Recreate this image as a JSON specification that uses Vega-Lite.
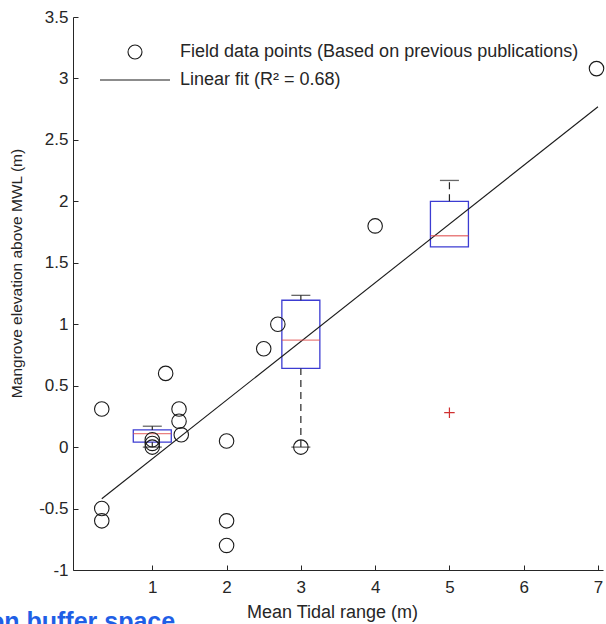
{
  "$schema": "https://vega.github.io/schema/vega-lite/v6.json",
  "width": 530,
  "height": 553,
  "autosize": "none",
  "padding": {"left": 73, "top": 17, "right": 3, "bottom": 54},
  "background": "white",
  "config": {
    "view": {"stroke": null},
    "font": "Liberation Sans",
    "axis": {
      "grid": false,
      "domainColor": "#262626",
      "tickColor": "#262626",
      "labelColor": "#262626",
      "titleColor": "#262626",
      "labelFont": "Liberation Sans",
      "titleFont": "Liberation Sans",
      "labelFontSize": 17,
      "titleFontWeight": "normal"
    }
  },
  "title": {
    "text": "on buffer space",
    "orient": "bottom",
    "anchor": "start",
    "frame": "bounds",
    "baseline": "top",
    "fontSize": 25,
    "fontWeight": "bold",
    "color": "#1f5fe6",
    "font": "Liberation Sans",
    "offset": -11,
    "dx": -20
  },
  "resolve": {"axis": {"x": "independent", "y": "independent"}},
  "datasets": {
    "points": [
      {"x": 0.32, "y": 0.31}, {"x": 0.32, "y": -0.5}, {"x": 0.32, "y": -0.6},
      {"x": 1, "y": 0.06}, {"x": 1, "y": 0.03}, {"x": 1, "y": 0.0},
      {"x": 1.18, "y": 0.6},
      {"x": 1.36, "y": 0.31}, {"x": 1.36, "y": 0.21}, {"x": 1.39, "y": 0.1},
      {"x": 2, "y": 0.05}, {"x": 2, "y": -0.6}, {"x": 2, "y": -0.8},
      {"x": 2.5, "y": 0.8}, {"x": 2.69, "y": 1.0},
      {"x": 3, "y": 0.0},
      {"x": 4, "y": 1.8},
      {"x": 6.98, "y": 3.08}
    ],
    "boxes": [
      {"x": 1, "q1": 0.04, "q3": 0.14, "med": 0.11, "lo": 0.0, "hi": 0.17},
      {"x": 3, "q1": 0.64, "q3": 1.195, "med": 0.87, "lo": 0.0, "hi": 1.235},
      {"x": 5, "q1": 1.63, "q3": 2.0, "med": 1.72, "lo": null, "hi": 2.17}
    ],
    "fit": [
      {"x": 0.32, "y": -0.42},
      {"x": 7, "y": 2.77}
    ],
    "outliers": [
      {"x": 5, "y": 0.28}
    ]
  },
  "layer": [
    {
      "data": {"name": "boxes"},
      "mark": {"type": "bar", "width": 38, "fill": "transparent", "stroke": "#3c3cd2", "strokeWidth": 1.3},
      "encoding": {
        "x": {"field": "x", "type": "quantitative", "scale": {"domain": [0, 7], "nice": false, "zero": false},
              "axis": {"orient": "bottom", "values": [1, 2, 3, 4, 5, 6, 7], "labelExpr": "'' + datum.value", "title": "Mean Tidal range (m)",
                       "ticks": false, "labelPadding": 9, "titleFontSize": 18, "titleX": 259, "titleY": 47, "titleBaseline": "alphabetic"}},
        "y": {"field": "q1", "type": "quantitative", "scale": {"domain": [-1, 3.5], "nice": false, "zero": false},
              "axis": {"orient": "left", "values": [-1, -0.5, 0, 0.5, 1, 1.5, 2, 2.5, 3, 3.5], "labelExpr": "'' + datum.value", "title": "Mangrove elevation above MWL (m)",
                       "ticks": false, "labelPadding": 5, "titleFontSize": 15.5, "titleX": -57, "titleY": 256, "titleBaseline": "middle"}},
        "y2": {"field": "q3"}
      }
    },
    {
      "data": {"name": "fit"},
      "mark": {"type": "line", "color": "#1a1a1a", "strokeWidth": 1.1},
      "encoding": {
        "x": {"field": "x", "type": "quantitative",
              "axis": {"orient": "bottom", "offset": -5, "domain": false, "labels": false, "ticks": true, "tickSize": 5, "title": null,
                       "values": [1, 2, 3, 4, 5, 6, 7]}},
        "y": {"field": "y", "type": "quantitative",
              "axis": {"orient": "left", "offset": -5, "domain": false, "labels": false, "ticks": true, "tickSize": 5, "title": null,
                       "values": [-1, -0.5, 0, 0.5, 1, 1.5, 2, 2.5, 3, 3.5]}}
      }
    },
    {
      "data": {"name": "boxes"},
      "mark": {"type": "rule", "color": "#262626", "strokeWidth": 1.2, "strokeDash": [7, 5]},
      "encoding": {
        "x": {"field": "x", "type": "quantitative", "axis": null},
        "y": {"field": "q3", "type": "quantitative", "axis": null},
        "y2": {"field": "hi"}
      }
    },
    {
      "data": {"name": "boxes"},
      "mark": {"type": "rule", "color": "#262626", "strokeWidth": 1.2, "strokeDash": [7, 5]},
      "encoding": {
        "x": {"field": "x", "type": "quantitative", "axis": null},
        "y": {"field": "lo", "type": "quantitative", "axis": null},
        "y2": {"field": "q1"}
      }
    },
    {
      "data": {"name": "boxes"},
      "mark": {"type": "tick", "orient": "horizontal", "size": 19, "thickness": 1.3, "color": "#262626"},
      "encoding": {
        "x": {"field": "x", "type": "quantitative", "axis": null},
        "y": {"field": "hi", "type": "quantitative", "axis": null}
      }
    },
    {
      "data": {"name": "boxes"},
      "mark": {"type": "tick", "orient": "horizontal", "size": 19, "thickness": 1.3, "color": "#262626"},
      "encoding": {
        "x": {"field": "x", "type": "quantitative", "axis": null},
        "y": {"field": "lo", "type": "quantitative", "axis": null}
      }
    },
    {
      "data": {"name": "boxes"},
      "mark": {"type": "tick", "orient": "horizontal", "size": 38, "thickness": 1.3, "color": "#e04a4a"},
      "encoding": {
        "x": {"field": "x", "type": "quantitative", "axis": null},
        "y": {"field": "med", "type": "quantitative", "axis": null}
      }
    },
    {
      "data": {"name": "points"},
      "mark": {"type": "point", "filled": false, "color": "#1a1a1a", "strokeWidth": 1.1, "size": 210, "opacity": 1},
      "encoding": {
        "x": {"field": "x", "type": "quantitative", "axis": null},
        "y": {"field": "y", "type": "quantitative", "axis": null},
        "shape": {
          "datum": "Field data points (Based on previous publications)",
          "scale": {
            "domain": ["Field data points (Based on previous publications)", "Linear fit (R² = 0.68)"],
            "range": ["circle", "M-5,0H5"]
          },
          "legend": {
            "title": null,
            "orient": "none",
            "legendX": 53,
            "legendY": 26,
            "padding": 0,
            "labelFontSize": 18,
            "labelFont": "Liberation Sans",
            "labelColor": "#262626",
            "labelOffset": 36,
            "labelLimit": 600,
            "rowPadding": 9,
            "symbolSize": 196,
            "symbolStrokeColor": "#1a1a1a",
            "symbolFillColor": "transparent",
            "symbolStrokeWidth": 1.1
          }
        }
      }
    },
    {
      "data": {"name": "outliers"},
      "mark": {"type": "point", "shape": "M-1,0H1M0,-1V1", "filled": false, "color": "#d03030", "strokeWidth": 1.2, "size": 110, "opacity": 1},
      "encoding": {
        "x": {"field": "x", "type": "quantitative", "axis": null},
        "y": {"field": "y", "type": "quantitative", "axis": null}
      }
    }
  ]
}
